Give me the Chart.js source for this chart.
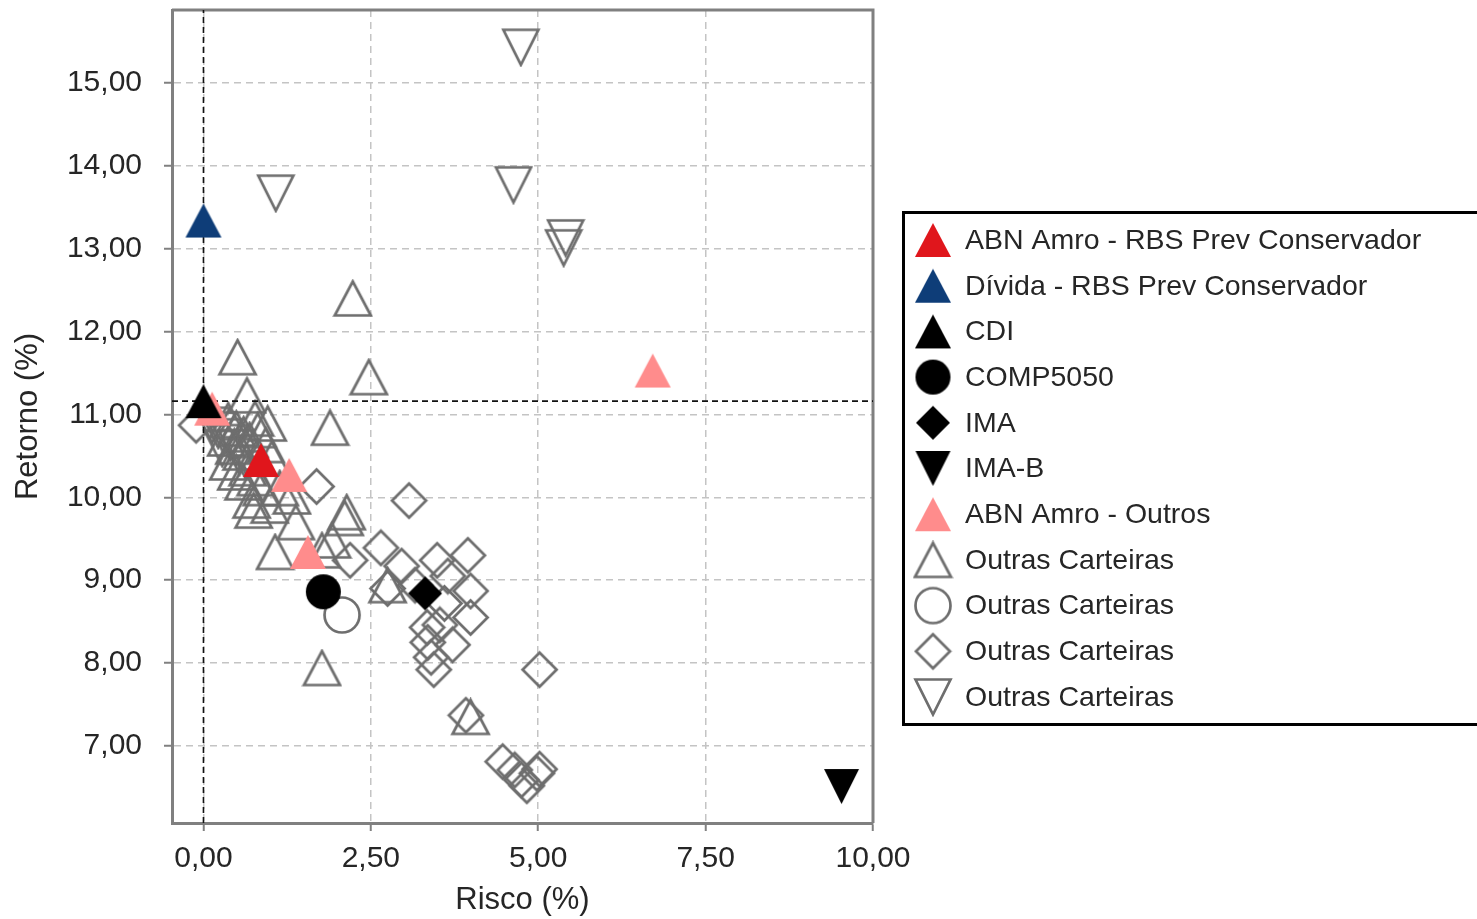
<!DOCTYPE html>
<html>
<head>
<meta charset="utf-8">
<title>Risco x Retorno</title>
<script src="https://cdn.jsdelivr.net/npm/chart.js@4"></script>
<style>
  html, body { margin: 0; padding: 0; background: #fff; }
  #wrap { position: relative; width: 1477px; height: 919px; overflow: hidden; }
  /* chart.js keeps ~18px above the plot for the top tick label; pull it up */
  #inner { position: absolute; left: 0; top: -9px; width: 1477px; height: 928px; }
</style>
</head>
<body>
<div id="wrap"><div id="inner"><canvas id="riskChart"></canvas></div></div>
<script>
// ── Axis setup ──────────────────────────────────────────────
const riskTicks = [0, 2.5, 5, 7.5, 10];
const returnTicks = [7, 8, 9, 10, 11, 12, 13, 14, 15];
const riskRange = [-0.47, 10.0];
const returnRange = [6.07, 15.88];

// CDI reference lines
const refRisk = 0;
const refReturn = 11.16;

// ── Series: [risco, retorno] ────────────────────────────────
const abnConservador = [[0.86, 10.45]];
const dividaConservador = [[0.0, 13.34]];
const cdi = [[0.0, 11.16]];
const comp5050 = [[1.79, 8.86]];
const ima = [[3.31, 8.84]];
const imaB = [[9.53, 6.51]];
const abnOutros = [[0.13, 11.07], [1.28, 10.27], [1.56, 9.34], [6.71, 11.53]];

const outrasTriangulo = [
    [0.51, 11.69], [0.65, 11.23], [0.77, 10.95], [0.96, 10.89], [0.37, 10.93],
    [0.49, 10.83], [0.60, 10.76], [0.34, 10.71], [0.46, 10.61], [0.57, 10.54],
    [0.69, 10.69], [0.81, 10.81], [0.93, 10.63], [1.02, 10.47], [0.66, 10.35],
    [0.78, 10.23], [0.87, 10.11], [0.60, 10.18], [0.72, 9.96], [0.99, 9.90],
    [0.75, 9.84], [1.32, 10.01], [1.38, 9.70], [1.14, 10.11], [1.07, 9.34],
    [2.23, 12.40], [2.47, 11.45], [1.89, 10.84], [2.14, 9.82], [2.11, 9.75],
    [1.92, 9.48], [1.77, 9.36], [1.77, 7.94], [3.99, 7.35], [2.75, 8.94],
    [0.37, 10.42], [0.49, 10.30]
];
const outrasCirculo = [[2.07, 8.58]];
const outrasLosango = [
    [-0.11, 10.87], [1.69, 10.13], [3.07, 9.96], [2.65, 9.39], [2.19, 9.24],
    [2.96, 9.17], [2.75, 8.90], [3.49, 9.24], [3.95, 9.30], [3.65, 9.05],
    [3.99, 8.87], [3.60, 8.72], [3.99, 8.55], [3.34, 8.43], [3.35, 8.25],
    [3.72, 8.22], [3.40, 8.07], [3.44, 7.92], [5.02, 7.92], [3.92, 7.37],
    [4.47, 6.81], [4.65, 6.71], [4.75, 6.59], [4.98, 6.67], [5.02, 6.72],
    [4.83, 6.52], [3.16, 8.94], [3.53, 8.46]
];
const outrasInvertido = [
    [4.74, 15.43], [1.08, 13.67], [4.63, 13.77], [5.41, 13.13], [5.38, 13.01],
    [0.13, 10.87], [0.22, 10.81], [0.31, 10.73], [0.40, 10.66], [0.49, 10.60],
    [0.54, 10.49], [0.28, 10.59]
];

// ── Colours & fonts ─────────────────────────────────────────
const colors = {
    red:   '#e0161c',
    blue:  '#0e3d78',
    black: '#000000',
    pink:  '#ff8c8c',
    gray:  '#6e6e6e',
    grid:  '#c4c4c4',
    axis:  '#808080',
    text:  '#262626'
};
const fontFamily = '"Liberation Sans", Arial, sans-serif';

// marker images so the shapes are centred on their bounding box
function makeMarker(shape, fill, stroke) {
    const sizes = { up: [36, 34], down: [35, 35], diamond: [34, 34], circle: [35, 35] };
    const [w, h] = sizes[shape];
    const lw = stroke ? 2.7 : 0;
    const cv = document.createElement('canvas');
    cv.width = Math.ceil(w + lw + 2);
    cv.height = Math.ceil(h + lw + 2);
    const c = cv.getContext('2d');
    const ox = (cv.width - w) / 2, oy = (cv.height - h) / 2;
    c.beginPath();
    if (shape === 'up') {
        c.moveTo(ox, oy + h); c.lineTo(ox + w / 2, oy); c.lineTo(ox + w, oy + h);
    } else if (shape === 'down') {
        c.moveTo(ox, oy); c.lineTo(ox + w, oy); c.lineTo(ox + w / 2, oy + h);
    } else if (shape === 'diamond') {
        c.moveTo(ox + w / 2, oy); c.lineTo(ox + w, oy + h / 2);
        c.lineTo(ox + w / 2, oy + h); c.lineTo(ox, oy + h / 2);
    } else {
        c.arc(ox + w / 2, oy + h / 2, w / 2, 0, Math.PI * 2);
    }
    c.closePath();
    if (fill) { c.fillStyle = fill; c.fill(); }
    if (stroke) { c.lineWidth = lw; c.lineJoin = 'miter'; c.strokeStyle = stroke; c.stroke(); }
    return cv;
}

const toPoints = arr => arr.map(p => ({ x: p[0], y: p[1] }));
const fmt = v => Number(v).toFixed(2).replace('.', ',');

function series(label, data, marker, order) {
    return { label, data: toPoints(data), pointStyle: marker, pointRadius: 18,
             pointHoverRadius: 18, order, showLegend: true };
}

const datasets = [
    series('ABN Amro - RBS Prev Conservador', abnConservador, makeMarker('up', colors.red), 0),
    series('Dívida - RBS Prev Conservador', dividaConservador, makeMarker('up', colors.blue), 0),
    series('CDI', cdi, makeMarker('up', colors.black), 0),
    series('COMP5050', comp5050, makeMarker('circle', colors.black), 0),
    series('IMA', ima, makeMarker('diamond', colors.black), 0),
    series('IMA-B', imaB, makeMarker('down', colors.black), 0),
    series('ABN Amro - Outros', abnOutros, makeMarker('up', colors.pink), 0),
    series('Outras Carteiras', outrasTriangulo, makeMarker('up', null, colors.gray), 2),
    series('Outras Carteiras', outrasCirculo, makeMarker('circle', null, colors.gray), 2),
    series('Outras Carteiras', outrasLosango, makeMarker('diamond', null, colors.gray), 2),
    series('Outras Carteiras', outrasInvertido, makeMarker('down', null, colors.gray), 2),
    {
        label: 'ref-x', showLegend: false, showLine: true, order: 1,
        data: [{ x: refRisk, y: returnRange[0] }, { x: refRisk, y: returnRange[1] }],
        borderColor: '#111', borderWidth: 1.6, borderDash: [6, 4], pointRadius: 0
    },
    {
        label: 'ref-y', showLegend: false, showLine: true, order: 1,
        data: [{ x: riskRange[0], y: refReturn }, { x: riskRange[1], y: refReturn }],
        borderColor: '#111', borderWidth: 1.6, borderDash: [6, 4], pointRadius: 0
    }
];

// frame on top/right + boxed legend on the right
const framePlugin = {
    id: 'frame',
    beforeDatasetsDraw(chart) {
        const { ctx, chartArea: a } = chart;
        ctx.save();
        ctx.strokeStyle = colors.axis;
        ctx.lineWidth = 3;
        ctx.beginPath();
        ctx.moveTo(a.left, a.top); ctx.lineTo(a.right, a.top); ctx.lineTo(a.right, a.bottom);
        ctx.stroke();
        ctx.restore();
    }
};

const boxLegend = {
    id: 'boxLegend',
    afterDraw(chart) {
        const ctx = chart.ctx;
        const items = chart.data.datasets.filter(d => d.showLegend);
        const top = 221;  // canvas is shifted up 9px
        ctx.save();
        ctx.lineWidth = 3;
        ctx.strokeStyle = '#000';
        ctx.strokeRect(903.5, top + 0.5, 620, 512);
        ctx.font = '28.5px ' + fontFamily;
        ctx.fillStyle = colors.text;
        ctx.textBaseline = 'middle';
        items.forEach((d, i) => {
            const y = top + 28 + i * 45.7;
            const m = d.pointStyle;
            ctx.drawImage(m, 933 - m.width / 2, y - m.height / 2);
            ctx.fillText(d.label, 965, y + 1);
        });
        ctx.restore();
    }
};

document.addEventListener('DOMContentLoaded', function() {
    const ctx = document.getElementById('riskChart');
    new Chart(ctx, {
        type: 'scatter',
        data: { datasets },
        plugins: [framePlugin, boxLegend],
        options: {
            responsive: true,
            maintainAspectRatio: false,
            animation: false,
            events: [],
            layout: { padding: { top: 0, right: 604, left: 0, bottom: 0 } },
            plugins: {
                legend: { display: false },
                tooltip: { enabled: false }
            },
            scales: {
                x: {
                    type: 'linear',
                    min: riskRange[0],
                    max: riskRange[1],
                    afterBuildTicks: s => { s.ticks = riskTicks.map(v => ({ value: v })); },
                    afterFit: s => { s.height = 96; s.paddingLeft = 0; s.paddingRight = 0; },
                    ticks: { callback: fmt, color: colors.text, padding: 10, maxRotation: 0,
                             font: { family: fontFamily, size: 30 } },
                    grid: { color: colors.grid, lineWidth: 1.5, tickColor: colors.axis,
                            tickWidth: 2, tickLength: 8, tickBorderDash: [] },
                    border: { color: colors.axis, width: 3, dash: [7, 5] },
                    title: { display: true, text: 'Risco (%)', color: colors.text, padding: 0,
                             font: { family: fontFamily, size: 31 } }
                },
                y: {
                    type: 'linear',
                    min: returnRange[0],
                    max: returnRange[1],
                    afterBuildTicks: s => { s.ticks = returnTicks.map(v => ({ value: v })); },
                    afterFit: s => { s.width = 172; s.paddingTop = 0; s.paddingBottom = 0; },
                    ticks: { callback: fmt, color: colors.text, padding: 22,
                             font: { family: fontFamily, size: 30 } },
                    grid: { color: colors.grid, lineWidth: 1.5, tickColor: colors.axis,
                            tickWidth: 2, tickLength: 8, tickBorderDash: [] },
                    border: { color: colors.axis, width: 3, dash: [7, 5] },
                    title: { display: true, text: 'Retorno (%)', color: colors.text,
                             padding: { top: 10, bottom: 0 },
                             font: { family: fontFamily, size: 31 } }
                }
            }
        }
    });
});
</script>
</body>
</html>
